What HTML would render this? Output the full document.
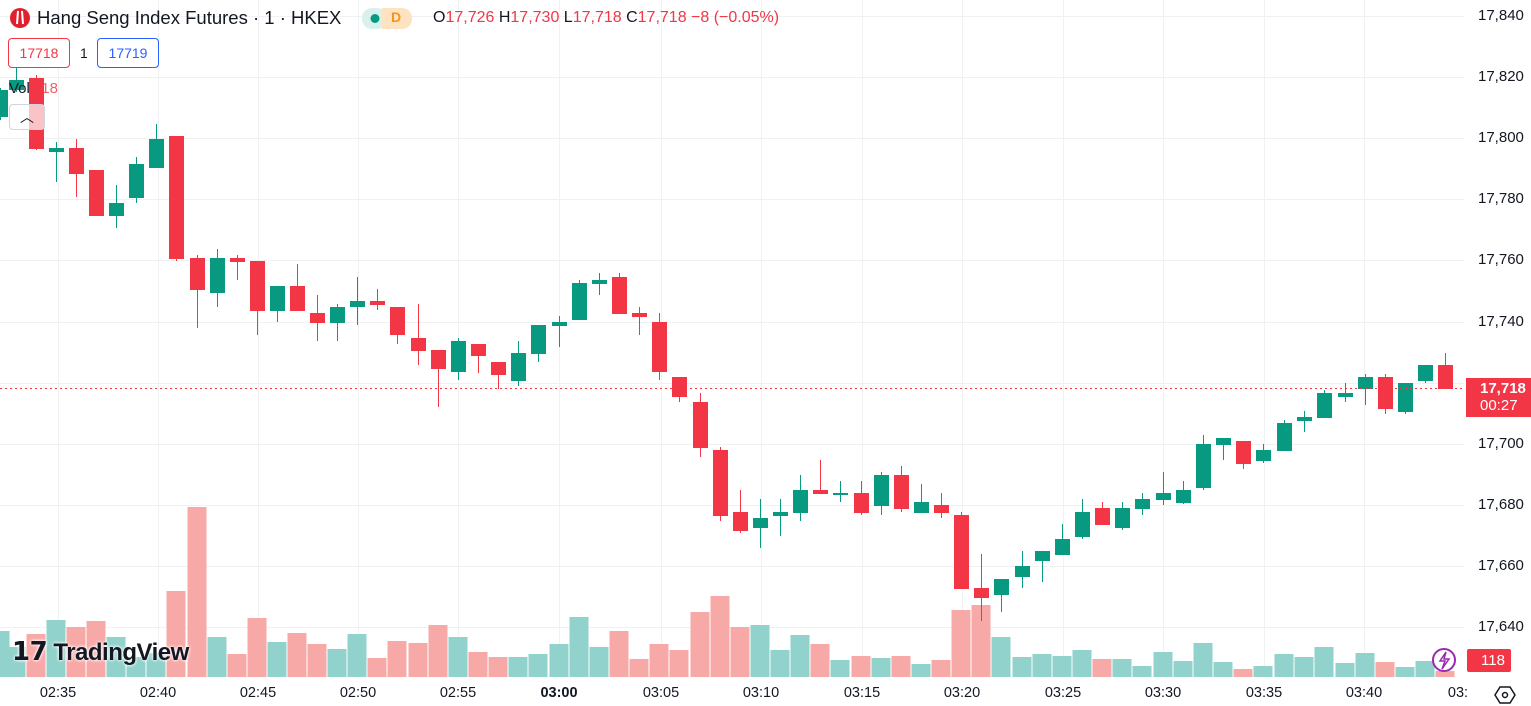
<!DOCTYPE html>
<html><head><meta charset="utf-8"><style>
body{margin:0;width:1531px;height:706px;overflow:hidden;background:#fff;font-family:"Liberation Sans",sans-serif;position:relative}
.ax{position:absolute;font-size:15px;color:#131722}
.t{position:absolute;top:685px;font-size:14.5px;color:#131722;transform:translateX(-50%)}
</style></head><body>
<svg id="s" width="1531" height="706" style="position:absolute;left:0;top:0">
<g id="grid" stroke="#f0f1f3" stroke-width="1"></g>
<g id="vol"></g>
<g id="cdl"></g>
<line x1="0" y1="388.5" x2="1464" y2="388.5" stroke="#f23645" stroke-dasharray="2,3" stroke-width="1"/>
<rect x="1466" y="378" width="65" height="39" fill="#f23645"/>
<rect x="1467" y="649" width="44" height="23" fill="#f23645" rx="2"/>
<circle cx="1444" cy="660" r="11" fill="#fff" stroke="#9c27b0" stroke-width="2"/>
<path d="M1446 652 L1440 661 L1445 661 L1442 669 L1449 659 L1444 659 Z" fill="none" stroke="#9c27b0" stroke-width="1.5"/>
<path d="M1495 695 L1500 687 L1510 687 L1515 695 L1510 703 L1500 703 Z" fill="none" stroke="#131722" stroke-width="1.5"/>
<circle cx="1505" cy="695" r="2.5" fill="none" stroke="#131722" stroke-width="1.5"/>
<circle cx="20" cy="18" r="10" fill="#e0202f"/>
<path d="M18 11 L17 24 M22 11 L23 24" stroke="#fff" stroke-width="2"/>
<rect x="362" y="8" width="25" height="21" rx="10" fill="#d9f0ec"/>
<rect x="382" y="8" width="30" height="21" rx="10" fill="#fde3c0"/>
<rect x="382" y="8" width="12" height="21" fill="#fde3c0"/>
<circle cx="375" cy="18.5" r="4.5" fill="#089981"/>
</svg>
<div style="position:absolute;left:37px;top:7px;font-size:18.5px;color:#131722;white-space:nowrap">Hang Seng Index Futures · 1 · HKEX</div>
<div style="position:absolute;left:391px;top:9px;font-size:14px;color:#f7931a;font-weight:bold">D</div>
<div style="position:absolute;left:433px;top:9px;font-size:16px;color:#f23645;white-space:nowrap"><span style="color:#131722">O</span>17,726 <span style="color:#131722">H</span>17,730 <span style="color:#131722">L</span>17,718 <span style="color:#131722">C</span>17,718 −8 (−0.05%)</div>
<div style="position:absolute;left:8px;top:38px;width:60px;height:28px;border:1px solid #f23645;border-radius:4px;color:#f23645;font-size:14px;line-height:28px;text-align:center;background:#fff">17718</div>
<div style="position:absolute;left:80px;top:45px;font-size:14px;color:#131722">1</div>
<div style="position:absolute;left:97px;top:38px;width:60px;height:28px;border:1px solid #2962ff;border-radius:4px;color:#2962ff;font-size:14px;line-height:28px;text-align:center;background:#fff">17719</div>
<div style="position:absolute;left:9px;top:80px;font-size:15px;color:#131722">Vol <span style="color:#f23645;opacity:.8">118</span></div>
<div style="position:absolute;left:9px;top:104px;width:34px;height:24px;border:1px solid #d1d4dc;border-radius:4px;background:rgba(255,255,255,.7);text-align:center;font-size:14px;line-height:24px;color:#131722">︿</div>
<div style="position:absolute;left:12px;top:636px;font-size:24px;font-weight:bold;color:#131722;letter-spacing:-0.5px;text-shadow:0 0 3px #fff,0 0 3px #fff"><span style="font-size:26px">𝟭𝟳</span> TradingView</div>
<div style="position:absolute;left:1480px;top:380px;font-size:15px;color:#fff;font-weight:bold;line-height:17px">17,718<br><span style="font-weight:normal">00:27</span></div>
<div style="position:absolute;left:1481px;top:652px;font-size:15px;color:#fff">118</div>
<div class="ax" style="left:1478px;top:7px">17,840</div>
<div class="ax" style="left:1478px;top:68px">17,820</div>
<div class="ax" style="left:1478px;top:129px">17,800</div>
<div class="ax" style="left:1478px;top:190px">17,780</div>
<div class="ax" style="left:1478px;top:251px">17,760</div>
<div class="ax" style="left:1478px;top:313px">17,740</div>
<div class="ax" style="left:1478px;top:435px">17,700</div>
<div class="ax" style="left:1478px;top:496px">17,680</div>
<div class="ax" style="left:1478px;top:557px">17,660</div>
<div class="ax" style="left:1478px;top:618px">17,640</div>
<div class="t" style="left:58px">02:35</div>
<div class="t" style="left:158px">02:40</div>
<div class="t" style="left:258px">02:45</div>
<div class="t" style="left:358px">02:50</div>
<div class="t" style="left:458px">02:55</div>
<div class="t" style="left:559px;font-weight:bold">03:00</div>
<div class="t" style="left:661px">03:05</div>
<div class="t" style="left:761px">03:10</div>
<div class="t" style="left:862px">03:15</div>
<div class="t" style="left:962px">03:20</div>
<div class="t" style="left:1063px">03:25</div>
<div class="t" style="left:1163px">03:30</div>
<div class="t" style="left:1264px">03:35</div>
<div class="t" style="left:1364px">03:40</div>
<div class="t" style="left:1458px">03:</div>
<script>
var NS="http://www.w3.org/2000/svg";
function el(p,t,a){var e=document.createElementNS(NS,t);for(var k in a)e.setAttribute(k,a[k]);document.getElementById(p).appendChild(e);}
[16,77,138,199,260,322,383,444,505,566,627].forEach(function(y){el("grid","line",{x1:0,x2:1464,y1:y+.5,y2:y+.5});});
[58,158,258,358,458,559,661,761,862,962,1063,1163,1264,1364].forEach(function(x){el("grid","line",{x1:x+.5,x2:x+.5,y1:0,y2:677});});
var C=[[0,'g',90,117,88,120],[16,'g',80,90,67,92],[36,'r',78,149,75,150],[56,'g',148,152,142,182],[76,'r',148,174,139,197],[96,'r',170,216,170,216],[116,'g',203,216,185,228],[136,'g',164,198,157,203],[156,'g',139,168,124,168],[176,'r',136,259,136,261],
[197,'r',258,290,255,328],[217,'g',258,293,249,307],[237,'r',258,262,255,280],[257,'r',261,311,261,335],[277,'g',286,311,286,322],[297,'r',286,311,264,311],[317,'r',313,323,295,341],[337,'g',307,323,304,341],[357,'g',301,307,277,325],[377,'r',301,305,289,310],[397,'r',307,335,307,344],[418,'r',338,351,304,365],[438,'r',350,369,350,407],[458,'g',341,372,338,380],[478,'r',344,356,344,373],
[498,'r',362,375,362,389],[518,'g',353,381,341,386],[538,'g',325,354,325,362],[559,'g',322,326,316,347],[579,'g',283,320,280,320],[599,'g',280,284,273,295],[619,'r',277,314,273,314],[639,'r',313,317,307,335],[659,'r',322,372,313,380],[679,'r',377,397,377,402],[700,'r',402,448,393,457],[720,'r',450,516,447,521],[740,'r',512,531,490,533],[760,'g',518,528,499,548],[780,'g',512,516,499,536],[800,'g',490,513,475,521],[820,'r',490,494,460,494],[840,'g',493,494,481,502],[861,'r',493,513,481,515],[881,'g',475,506,472,515],[901,'r',475,509,466,512],[921,'g',502,513,484,513],[941,'r',505,513,493,518],[961,'r',515,589,512,589],
[981,'r',588,598,554,621],[1001,'g',579,595,579,612],[1022,'g',566,577,551,588],[1042,'g',551,561,551,582],[1062,'g',539,555,524,555],[1082,'g',512,537,499,539],[1102,'r',508,525,502,525],[1122,'g',508,528,502,530],[1142,'g',499,509,493,515],[1163,'g',493,500,472,505],[1183,'g',490,503,481,504],[1203,'g',444,488,435,490],[1223,'g',438,445,438,460],[1243,'r',441,464,441,469],[1263,'g',450,461,444,463],[1284,'g',423,451,420,451],[1304,'g',417,421,411,432],[1324,'g',393,418,390,418],[1345,'g',393,397,383,402],[1365,'g',377,389,374,405],[1385,'r',377,409,374,414],[1405,'g',383,412,383,414],[1425,'g',365,381,365,383],[1445,'r',365,389,353,389]];
var V=[[0,'g',631],[16,'g',647],[36,'r',634],[56,'g',620],[76,'r',627],[96,'r',621],[116,'g',637],[136,'g',657],[156,'g',653],[176,'r',591],[197,'r',507],[217,'g',637],[237,'r',654],[257,'r',618],[277,'g',642],[297,'r',633],[317,'r',644],[337,'g',649],[357,'g',634],[377,'r',658],[397,'r',641],[418,'r',643],[438,'r',625],[458,'g',637],[478,'r',652],[498,'r',657],[518,'g',657],[538,'g',654],[559,'g',644],[579,'g',617],[599,'g',647],[619,'r',631],[639,'r',659],[659,'r',644],[679,'r',650],[700,'r',612],[720,'r',596],[740,'r',627],[760,'g',625],[780,'g',650],[800,'g',635],[820,'r',644],[840,'g',660],[861,'r',656],[881,'g',658],[901,'r',656],[921,'g',664],[941,'r',660],[961,'r',610],[981,'r',605],[1001,'g',637],[1022,'g',657],[1042,'g',654],[1062,'g',656],[1082,'g',650],[1102,'r',659],[1122,'g',659],[1142,'g',666],[1163,'g',652],[1183,'g',661],[1203,'g',643],[1223,'g',662],[1243,'r',669],[1263,'g',666],[1284,'g',654],[1304,'g',657],[1324,'g',647],[1345,'g',663],[1365,'g',653],[1385,'r',662],[1405,'g',667],[1425,'g',661],[1445,'r',671]];
V.forEach(function(v){el("vol","rect",{x:v[0]-9.5,y:v[2],width:19,height:677-v[2],fill:v[1]=='g'?'#92d2cc':'#f7a9a7'});});
C.forEach(function(c){var col=c[1]=='g'?'#089981':'#f23645';
el("cdl","line",{x1:c[0]+.5,x2:c[0]+.5,y1:c[4],y2:c[5],stroke:col,"stroke-width":1});
el("cdl","rect",{x:c[0]-7,y:c[2],width:15,height:Math.max(2,c[3]-c[2]),fill:col});});
</script>
</body></html>
